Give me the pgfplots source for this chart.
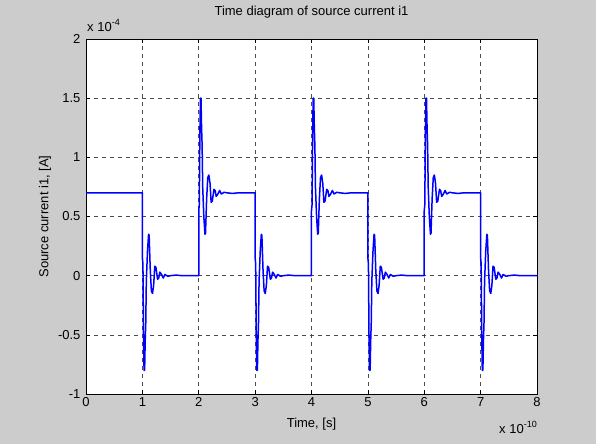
\documentclass[border=0pt]{standalone}
\usepackage{pgfplots}
\pgfplotsset{compat=1.18}
\usepackage{fontspec}
\setmainfont{Liberation Sans}
\definecolor{bggray}{RGB}{204,204,204}
\definecolor{mblue}{RGB}{0,0,255}
\begin{document}
\fontsize{13}{15}\selectfont
\begin{tikzpicture}[x=1pt,y=1pt]
\fill[bggray] (0,0) rectangle (596,444);
\begin{axis}[
  name=ax,
  at={(86pt,50pt)}, anchor=south west,
  scale only axis, width=451pt, height=355pt,
  xmin=0, xmax=8, ymin=-1, ymax=2,
  axis background/.style={fill=white},
  xtick={0,1,2,3,4,5,6,7,8},
  xticklabels={0,1,2,3,4,5,6,7,8},
  ytick={-1,-0.5,0,0.5,1,1.5,2},
  yticklabels={-1,-0.5,0,0.5,1,1.5,2},
  tick align=inside, tickwidth=4pt,
  tick style={black, line width=0.6pt},
  xtick pos=both, ytick pos=both,
  grid=major,
  major grid style={black!70, line width=0.6pt, dash pattern=on 4pt off 4pt},
  axis line style={black, line width=0.7pt},
  xticklabel style={font=\fontsize{13}{15}\selectfont, yshift=1pt},
  yticklabel style={font=\fontsize{13}{15}\selectfont, xshift=-1pt},
  title={Time diagram of source current i1},
  title style={at={(0.5,1)}, anchor=center, yshift=21pt, font=\fontsize{13}{15}\selectfont},
  xlabel={Time, [s]},
  xlabel style={at={(0.5,0)}, anchor=center, yshift=-30pt, font=\fontsize{13}{15}\selectfont},
  ylabel={Source current i1, [A]},
  ylabel style={at={(0,0.5)}, anchor=center, yshift=41pt, font=\fontsize{13}{15}\selectfont},
  clip=true,
]
\addplot[mblue, line width=1.5pt, line join=round] coordinates {
(0,0.7)
(1,0.7) (1,0.15) (1.01,0.1) (1.02,-0.5) (1.03,-0.8) (1.04,-0.8) (1.05,-0.55) (1.06,-0.4) (1.07,-0.05) (1.09,0.2) (1.11,0.35) (1.12,0.34) (1.14,0.05) (1.16,-0.13) (1.18,-0.15) (1.2,-0.08) (1.22,0.08) (1.24,0.07) (1.27,-0.03) (1.29,-0.02) (1.31,0.03) (1.34,0.01) (1.37,-0.02) (1.4,0.01) (1.45,-0.005) (1.5,0) (1.6,0.005) (1.7,0)
(2,0) (2,0.55) (2.01,0.6) (2.02,1.2) (2.03,1.5) (2.04,1.5) (2.05,1.25) (2.06,1.1) (2.07,0.75) (2.09,0.5) (2.11,0.35) (2.12,0.36) (2.14,0.65) (2.16,0.83) (2.18,0.85) (2.2,0.78) (2.22,0.62) (2.24,0.63) (2.27,0.73) (2.29,0.72) (2.31,0.67) (2.34,0.69) (2.37,0.72) (2.4,0.69) (2.45,0.705) (2.5,0.7) (2.6,0.695) (2.7,0.7)
(3,0.7) (3,0.15) (3.01,0.1) (3.02,-0.5) (3.03,-0.8) (3.04,-0.8) (3.05,-0.55) (3.06,-0.4) (3.07,-0.05) (3.09,0.2) (3.11,0.35) (3.12,0.34) (3.14,0.05) (3.16,-0.13) (3.18,-0.15) (3.2,-0.08) (3.22,0.08) (3.24,0.07) (3.27,-0.03) (3.29,-0.02) (3.31,0.03) (3.34,0.01) (3.37,-0.02) (3.4,0.01) (3.45,-0.005) (3.5,0) (3.6,0.005) (3.7,0)
(4,0) (4,0.55) (4.01,0.6) (4.02,1.2) (4.03,1.5) (4.04,1.5) (4.05,1.25) (4.06,1.1) (4.07,0.75) (4.09,0.5) (4.11,0.35) (4.12,0.36) (4.14,0.65) (4.16,0.83) (4.18,0.85) (4.2,0.78) (4.22,0.62) (4.24,0.63) (4.27,0.73) (4.29,0.72) (4.31,0.67) (4.34,0.69) (4.37,0.72) (4.4,0.69) (4.45,0.705) (4.5,0.7) (4.6,0.695) (4.7,0.7)
(5,0.7) (5,0.15) (5.01,0.1) (5.02,-0.5) (5.03,-0.8) (5.04,-0.8) (5.05,-0.55) (5.06,-0.4) (5.07,-0.05) (5.09,0.2) (5.11,0.35) (5.12,0.34) (5.14,0.05) (5.16,-0.13) (5.18,-0.15) (5.2,-0.08) (5.22,0.08) (5.24,0.07) (5.27,-0.03) (5.29,-0.02) (5.31,0.03) (5.34,0.01) (5.37,-0.02) (5.4,0.01) (5.45,-0.005) (5.5,0) (5.6,0.005) (5.7,0)
(6,0) (6,0.55) (6.01,0.6) (6.02,1.2) (6.03,1.5) (6.04,1.5) (6.05,1.25) (6.06,1.1) (6.07,0.75) (6.09,0.5) (6.11,0.35) (6.12,0.36) (6.14,0.65) (6.16,0.83) (6.18,0.85) (6.2,0.78) (6.22,0.62) (6.24,0.63) (6.27,0.73) (6.29,0.72) (6.31,0.67) (6.34,0.69) (6.37,0.72) (6.4,0.69) (6.45,0.705) (6.5,0.7) (6.6,0.695) (6.7,0.7)
(7,0.7) (7,0.15) (7.01,0.1) (7.02,-0.5) (7.03,-0.8) (7.04,-0.8) (7.05,-0.55) (7.06,-0.4) (7.07,-0.05) (7.09,0.2) (7.11,0.35) (7.12,0.34) (7.14,0.05) (7.16,-0.13) (7.18,-0.15) (7.2,-0.08) (7.22,0.08) (7.24,0.07) (7.27,-0.03) (7.29,-0.02) (7.31,0.03) (7.34,0.01) (7.37,-0.02) (7.4,0.01) (7.45,-0.005) (7.5,0) (7.6,0.005) (7.7,0)
(8,0)
};
\end{axis}
\node[anchor=base west, inner sep=0pt, font=\fontsize{13}{15}\selectfont] at ([xshift=1pt,yshift=7pt]ax.north west) {x 10\raisebox{6pt}{\fontsize{9}{10}\selectfont -4}};
\node[anchor=base east, inner sep=0pt, font=\fontsize{13}{15}\selectfont] at ([xshift=0pt,yshift=-39pt]ax.south east) {x 10\raisebox{6pt}{\fontsize{9}{10}\selectfont -10}};
\end{tikzpicture}
\end{document}
